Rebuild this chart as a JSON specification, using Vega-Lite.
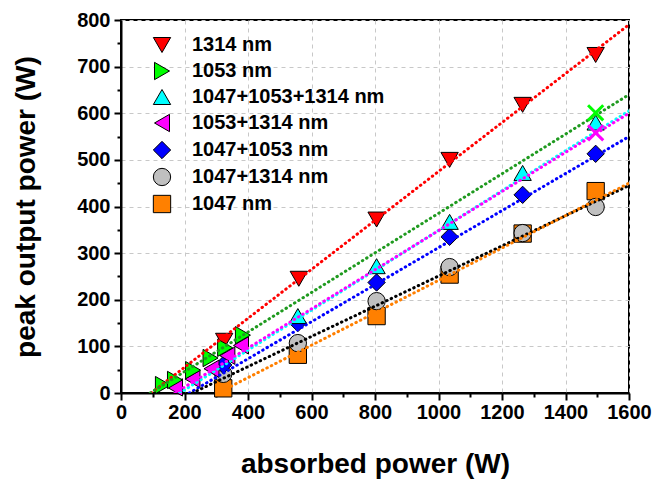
{
  "$schema": "https://vega.github.io/schema/vega-lite/v6.json",
  "width": 508,
  "height": 373,
  "autosize": "none",
  "padding": {"left": 121, "top": 20, "right": 27, "bottom": 88},
  "background": "white",
  "config": {
    "view": {"stroke": "black", "strokeWidth": 2},
    "font": "Liberation Sans",
    "axis": {
      "domainColor": "black", "domainWidth": 2,
      "tickColor": "black", "tickWidth": 2,
      "labelFont": "Liberation Sans", "labelFontWeight": "bold", "labelFontSize": 20, "labelColor": "black",
      "titleFont": "Liberation Sans", "titleFontWeight": "bold", "titleFontSize": 28, "titleColor": "black",
      "gridColor": "#c8c8c8", "gridDash": [4, 4], "gridWidth": 1
    }
  },
  "datasets": {
    "pts": [
      {"series": "1047 nm", "x": 322, "y": 10},
      {"series": "1047 nm", "x": 557, "y": 82},
      {"series": "1047 nm", "x": 805, "y": 165},
      {"series": "1047 nm", "x": 1035, "y": 254},
      {"series": "1047 nm", "x": 1265, "y": 342},
      {"series": "1047 nm", "x": 1495, "y": 433},
      {"series": "1047+1314 nm", "x": 322, "y": 41},
      {"series": "1047+1314 nm", "x": 557, "y": 107},
      {"series": "1047+1314 nm", "x": 805, "y": 197},
      {"series": "1047+1314 nm", "x": 1035, "y": 270},
      {"series": "1047+1314 nm", "x": 1265, "y": 343},
      {"series": "1047+1314 nm", "x": 1495, "y": 399},
      {"series": "1047+1053 nm", "x": 322, "y": 60},
      {"series": "1047+1053 nm", "x": 557, "y": 150},
      {"series": "1047+1053 nm", "x": 805, "y": 237},
      {"series": "1047+1053 nm", "x": 1035, "y": 335},
      {"series": "1047+1053 nm", "x": 1265, "y": 425},
      {"series": "1047+1053 nm", "x": 1495, "y": 513},
      {"series": "1047+1053+1314 nm", "x": 557, "y": 165},
      {"series": "1047+1053+1314 nm", "x": 805, "y": 272},
      {"series": "1047+1053+1314 nm", "x": 1035, "y": 367},
      {"series": "1047+1053+1314 nm", "x": 1265, "y": 472},
      {"series": "1047+1053+1314 nm", "x": 1495, "y": 580},
      {"series": "1314 nm", "x": 325, "y": 112},
      {"series": "1314 nm", "x": 560, "y": 245},
      {"series": "1314 nm", "x": 805, "y": 372},
      {"series": "1314 nm", "x": 1035, "y": 500},
      {"series": "1314 nm", "x": 1265, "y": 618},
      {"series": "1314 nm", "x": 1495, "y": 725},
      {"series": "1053+1314 nm", "x": 170, "y": 12},
      {"series": "1053+1314 nm", "x": 225, "y": 30},
      {"series": "1053+1314 nm", "x": 285, "y": 52},
      {"series": "1053+1314 nm", "x": 335, "y": 80},
      {"series": "1053+1314 nm", "x": 378, "y": 102},
      {"series": "1053 nm", "x": 132, "y": 17},
      {"series": "1053 nm", "x": 170, "y": 28},
      {"series": "1053 nm", "x": 227, "y": 49},
      {"series": "1053 nm", "x": 282, "y": 75},
      {"series": "1053 nm", "x": 328, "y": 97},
      {"series": "1053 nm", "x": 384, "y": 124}
    ],
    "fits": [
      {"series": "1314 nm", "x": 95, "y": 0, "lc": "#ff0000"},
      {"series": "1314 nm", "x": 1600, "y": 790, "lc": "#ff0000"},
      {"series": "1053 nm", "x": 92, "y": 0, "lc": "#1f9a1f"},
      {"series": "1053 nm", "x": 1600, "y": 640, "lc": "#1f9a1f"},
      {"series": "1047+1053+1314 nm", "x": 185, "y": 0, "lc": "#00ffff"},
      {"series": "1047+1053+1314 nm", "x": 1600, "y": 605, "lc": "#00ffff"},
      {"series": "1053+1314 nm", "x": 170, "y": 0, "lc": "#ff00ff"},
      {"series": "1053+1314 nm", "x": 1600, "y": 600, "lc": "#ff00ff"},
      {"series": "1047+1053 nm", "x": 215, "y": 0, "lc": "#0000ff"},
      {"series": "1047+1053 nm", "x": 1600, "y": 550, "lc": "#0000ff"},
      {"series": "1047+1314 nm", "x": 225, "y": 0, "lc": "#000000"},
      {"series": "1047+1314 nm", "x": 1600, "y": 445, "lc": "#000000"},
      {"series": "1047 nm", "x": 305, "y": 0, "lc": "#ff7f00"},
      {"series": "1047 nm", "x": 1600, "y": 450, "lc": "#ff7f00"}
    ],
    "xmarks": [
      {"series": "1053+1314 nm", "x": 1495, "y": 558, "c": "#ff00ff"},
      {"series": "1053 nm", "x": 1495, "y": 601, "c": "#00ff00"}
    ]
  },
  "layer": [
    {
      "data": {"name": "pts"},
      "mark": {"type": "point", "filled": true, "stroke": "black", "strokeWidth": 1, "opacity": 1},
      "encoding": {
        "x": {"field": "x", "type": "quantitative", "scale": {"domain": [0, 1600], "nice": false},
          "axis": {"values": [0, 200, 400, 600, 800, 1000, 1200, 1400, 1600], "format": "d", "grid": true, "tickSize": 7, "labelPadding": 2, "title": "absorbed power (W)", "titlePadding": 28, "labelFlush": false}},
        "y": {"field": "y", "type": "quantitative", "scale": {"domain": [0, 800], "nice": false},
          "axis": {"values": [0, 100, 200, 300, 400, 500, 600, 700, 800], "format": "d", "grid": true, "tickSize": 7, "labelPadding": 4, "title": "peak output power (W)", "titlePadding": 36, "labelFlush": false}},
        "fill": {"field": "series", "type": "nominal",
          "scale": {"domain": ["1314 nm", "1053 nm", "1047+1053+1314 nm", "1053+1314 nm", "1047+1053 nm", "1047+1314 nm", "1047 nm"],
            "range": ["#ff0000", "#00ff00", "#00ffff", "#ff00ff", "#0000ff", "#c0c0c0", "#ff8000"]},
          "legend": {"title": null, "orient": "none", "legendX": 31, "legendY": 15, "padding": 0,
            "labelFont": "Liberation Sans", "labelFontSize": 20, "labelFontWeight": "bold", "labelColor": "black", "labelLimit": 400,
            "symbolStrokeColor": "black", "symbolStrokeWidth": 1, "rowPadding": 5, "labelOffset": 20}},
        "shape": {"field": "series", "type": "nominal",
          "scale": {"domain": ["1314 nm", "1053 nm", "1047+1053+1314 nm", "1053+1314 nm", "1047+1053 nm", "1047+1314 nm", "1047 nm"],
            "range": ["triangle-down", "triangle-right", "triangle-up", "triangle-left", "diamond", "circle", "square"]}},
        "size": {"field": "series", "type": "nominal",
          "scale": {"domain": ["1314 nm", "1053 nm", "1047+1053+1314 nm", "1053+1314 nm", "1047+1053 nm", "1047+1314 nm", "1047 nm"],
            "range": [300, 300, 300, 300, 260, 220, 190]}}
      }
    },
    {
      "data": {"name": "fits"},
      "mark": {"type": "line", "strokeWidth": 3, "strokeDash": [0.5, 4.5], "strokeCap": "round", "clip": true},
      "encoding": {
        "x": {"field": "x", "type": "quantitative", "axis": {"values": [100, 300, 500, 700, 900, 1100, 1300, 1500], "labels": false, "grid": false, "domain": false, "tickSize": 4, "title": null, "orient": "bottom"}},
        "y": {"field": "y", "type": "quantitative", "axis": {"values": [50, 150, 250, 350, 450, 550, 650, 750], "labels": false, "grid": false, "domain": false, "tickSize": 4, "title": null, "orient": "left"}},
        "detail": {"field": "series", "type": "nominal"},
        "color": {"field": "lc", "type": "nominal", "scale": null}
      }
    },
    {
      "data": {"name": "xmarks"},
      "mark": {"type": "point", "shape": "M-1,-1L1,1M-1,1L1,-1", "filled": false, "strokeWidth": 3, "size": 230, "opacity": 1},
      "encoding": {
        "x": {"field": "x", "type": "quantitative", "axis": null},
        "y": {"field": "y", "type": "quantitative", "axis": null},
        "stroke": {"field": "c", "type": "nominal", "scale": null}
      }
    }
  ],
  "resolve": {"axis": {"x": "independent", "y": "independent"}}
}
